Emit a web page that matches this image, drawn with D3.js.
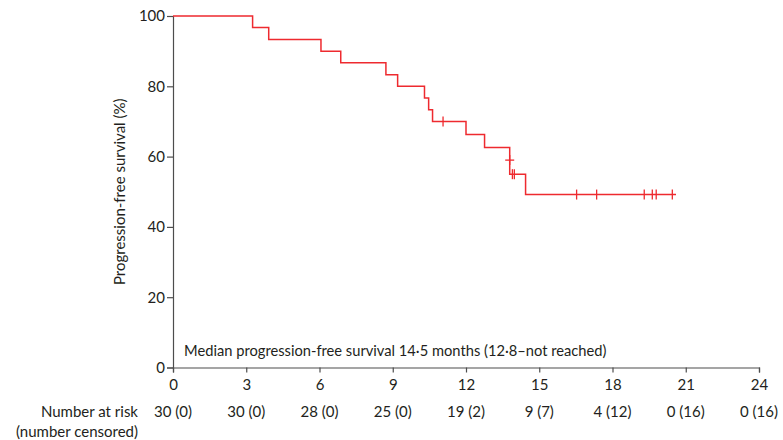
<!DOCTYPE html>
<html>
<head>
<meta charset="utf-8">
<script src="https://cdn.jsdelivr.net/npm/d3@7"></script>
<style>
  html, body { margin: 0; padding: 0; background: #fff; }
  svg text { font-family: Lato, "Open Sans", sans-serif; fill: #231f20; }
</style>
</head>
<body>
<svg id="chart" width="783" height="440"></svg>
<script>
// Kaplan-Meier step curve: time of each step (months) and survival level after it (%)
const stepTimes = [0, 3.26, 3.92, 6.06, 6.87, 8.72, 9.2, 10.3, 10.47, 10.63, 12.0, 12.76, 13.79, 13.79, 14.44];
const stepSurvival = [100, 96.7, 93.3, 90, 86.7, 83.3, 80, 76.7, 73.3, 70, 66.3, 62.6, 59.0, 55.0, 49.2];
const lastFollowUp = 20.6;

// Censored observations
const censorTimes = [11.06, 13.79, 13.9, 13.98, 16.53, 17.35, 19.3, 19.63, 19.79, 20.45];
const censorSurvival = [70, 59.0, 55.0, 55.0, 49.2, 49.2, 49.2, 49.2, 49.2, 49.2];

// Axes
const xTicks = [0, 3, 6, 9, 12, 15, 18, 21, 24];
const yTicks = [0, 20, 40, 60, 80, 100];

// Risk table
const atRisk = ["30 (0)", "30 (0)", "28 (0)", "25 (0)", "19 (2)", "9 (7)", "4 (12)", "0 (16)", "0 (16)"];

const medianLabel = "Median progression-free survival 14·5 months (12·8–not reached)";
const yTitle = "Progression-free survival (%)";

const svg = d3.select("#chart");
const x = d3.scaleLinear().domain([0, 24]).range([173, 759]);
const y = d3.scaleLinear().domain([0, 100]).range([367.5, 16]);
const curveColor = "#ee2a2f";
const axisColor = "#4d4d4d";
const fontSize = 15;

// y axis
const yAxis = svg.append("g")
  .attr("transform", `translate(${x(0)},0)`)
  .call(d3.axisLeft(y).tickValues(yTicks).tickSize(6).tickPadding(2));
// x axis
const xAxis = svg.append("g")
  .attr("transform", `translate(0,${y(0)})`)
  .call(d3.axisBottom(x).tickValues(xTicks).tickSize(5).tickPadding(5));

[yAxis, xAxis].forEach(g => {
  g.select(".domain").attr("stroke", axisColor).attr("stroke-width", 1.2);
  g.selectAll(".tick line").attr("stroke", axisColor).attr("stroke-width", 1.2);
  g.selectAll(".tick text").attr("font-size", fontSize).attr("font-family", "Lato, sans-serif").attr("fill", "#231f20");
});
xAxis.selectAll(".tick text").attr("dy", "0.8em");

// y axis title
svg.append("text")
  .attr("transform", `translate(125,${(y(0) + y(100)) / 2}) rotate(-90)`)
  .attr("text-anchor", "middle")
  .attr("font-size", fontSize)
  .text(yTitle);

// survival curve
const pts = stepTimes.map((t, i) => [t, stepSurvival[i]]);
pts.push([lastFollowUp, stepSurvival[stepSurvival.length - 1]]);
const line = d3.line()
  .x(d => x(d[0]))
  .y(d => y(d[1]))
  .curve(d3.curveStepAfter);
svg.append("path")
  .datum(pts)
  .attr("fill", "none")
  .attr("stroke", curveColor)
  .attr("stroke-width", 1.5)
  .attr("d", line);

// censor marks
const marks = svg.append("g").attr("stroke", curveColor).attr("stroke-width", 1.3);
censorTimes.forEach((t, i) => {
  const cx = x(t), cy = y(censorSurvival[i]);
  marks.append("line").attr("x1", cx).attr("x2", cx).attr("y1", cy - 5).attr("y2", cy + 5);
});
// the censor at the 13·8-month drop sits on the vertical segment, drawn as a horizontal tick
marks.append("line")
  .attr("x1", x(censorTimes[1]) - 4.5).attr("x2", x(censorTimes[1]) + 4.5)
  .attr("y1", y(censorSurvival[1])).attr("y2", y(censorSurvival[1]));

// median annotation
svg.append("text")
  .attr("x", 184).attr("y", 356)
  .attr("font-size", 14.7)
  .text(medianLabel);

// number at risk
const riskY = 417;
svg.append("text").attr("x", 138).attr("y", riskY).attr("text-anchor", "end")
  .attr("font-size", fontSize).text("Number at risk");
svg.append("text").attr("x", 138).attr("y", riskY + 20).attr("text-anchor", "end")
  .attr("font-size", fontSize).text("(number censored)");
svg.append("g").selectAll("text").data(atRisk).join("text")
  .attr("x", (d, i) => x(xTicks[i]))
  .attr("y", riskY)
  .attr("text-anchor", "middle")
  .attr("font-size", fontSize)
  .text(d => d);
</script>
</body>
</html>
